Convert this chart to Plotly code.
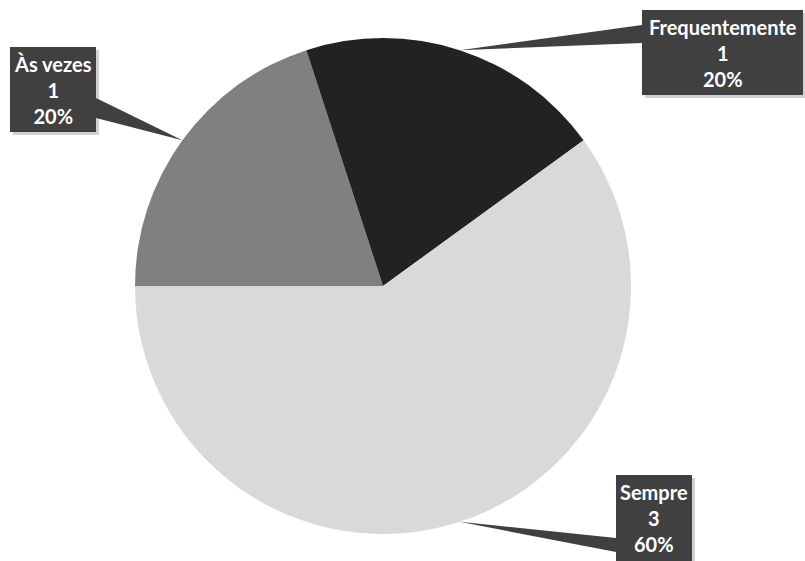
import math
import plotly.graph_objects as go

labels = ["Às vezes", "Frequentemente", "Sempre"]
values = [1, 1, 3]
colors = ["#808080", "#222222", "#d9d9d9"]

W, H = 805, 561
CX, CY, R = 383, 286, 248

# label box geometry (pixels): x0, y0, x1, y1
boxes = {
    "Às vezes": (10, 47, 96, 132),
    "Frequentemente": (642, 10, 803, 95),
    "Sempre": (616, 475, 692, 561),
}
# pointer base on box (x, y_top, y_bottom)
bases = {
    "Às vezes": (96, 98, 118),
    "Frequentemente": (642, 25, 43),
    "Sempre": (616, 538, 552),
}

def px(x):
    return x / W

def py(y):
    return 1 - y / H

fig = go.Figure()
fig.add_trace(go.Pie(
    labels=labels, values=values, sort=False, direction="clockwise",
    rotation=270, marker=dict(colors=colors, line=dict(width=0)),
    textinfo="none", showlegend=False,
    domain=dict(x=[px(CX - R), px(CX + R)], y=[py(CY + R), py(CY - R)]),
))

total = sum(values)
shapes = []
annotations = []
cum = 0.0
start = -90.0  # degrees clockwise from top
for lab, val in zip(labels, values):
    frac = val / total
    mid = start + (cum + frac / 2) * 360
    cum += frac
    a = math.radians(mid)
    tx = CX + R * math.sin(a)
    ty = CY - R * math.cos(a)
    bx, by0, by1 = bases[lab]
    x0, y0, x1, y1 = boxes[lab]
    # shadow
    shapes.append(dict(type="rect", xref="paper", yref="paper",
                       x0=px(x0 + 3), x1=px(x1 + 3), y0=py(y1 + 3), y1=py(y0 + 3),
                       fillcolor="rgba(0,0,0,0.18)", line=dict(width=0), layer="above"))
    path = f"M {px(bx)} {py(by0)} L {px(tx)} {py(ty)} L {px(bx)} {py(by1)} Z"
    shapes.append(dict(type="path", xref="paper", yref="paper", path=path,
                       fillcolor="#404040", line=dict(width=0), layer="above"))
    shapes.append(dict(type="rect", xref="paper", yref="paper",
                       x0=px(x0), x1=px(x1), y0=py(y1), y1=py(y0),
                       fillcolor="#404040", line=dict(width=0), layer="above"))
    pct = round(frac * 100)
    annotations.append(dict(
        xref="paper", yref="paper", x=px((x0 + x1) / 2), y=py((y0 + min(y1, y0 + 85)) / 2),
        xanchor="center", yanchor="middle", showarrow=False,
        text=f"<b>{lab}<br>{val}<br>{pct}%</b>",
        font=dict(family="Lato", size=20, color="white"), align="center",
    ))

fig.update_layout(
    width=W, height=H, margin=dict(l=0, r=0, t=0, b=0),
    paper_bgcolor="white", plot_bgcolor="white",
    shapes=shapes, annotations=annotations,
)
fig.write_html("out.html")
